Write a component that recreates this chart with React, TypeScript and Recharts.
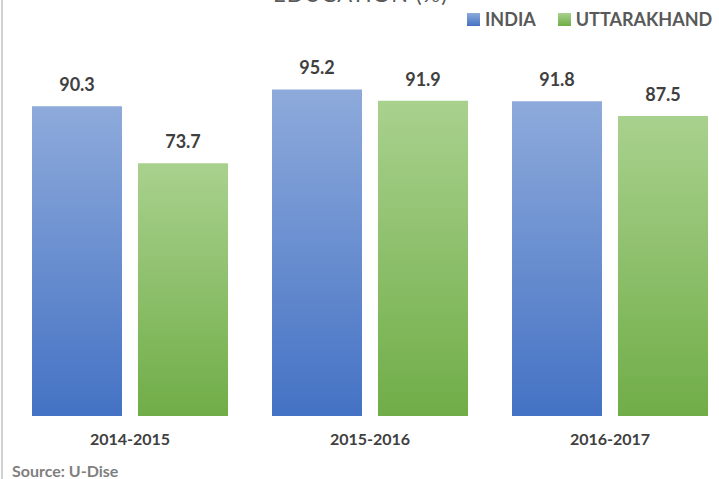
import React from "react";
import { Bar, BarChart, LabelList, XAxis, YAxis } from "recharts";

const years = ["2014-2015", "2015-2016", "2016-2017"];
const india = [90.3, 95.2, 91.8];
const uttarakhand = [73.7, 91.9, 87.5];
const seriesNames = ["INDIA", "UTTARAKHAND"];

const data = years.map((year, i) => ({
  year,
  india: india[i],
  uttarakhand: uttarakhand[i],
}));

const FONT = "Lato, 'Open Sans', sans-serif";

function LegendBox() {
  const fills = ["url(#gradIndia)", "url(#gradUk)"];
  return (
    <div
      style={{
        position: "absolute",
        top: 9,
        left: 467,
        display: "flex",
        alignItems: "center",
        fontFamily: FONT,
      }}
    >
      {seriesNames.map((name, i) => (
        <div key={name} style={{ display: "flex", alignItems: "center", marginRight: i === 0 ? 22 : 0 }}>
          <svg width={13} height={13} style={{ marginRight: 5 }}>
            <rect width={13} height={13} fill={fills[i]} />
          </svg>
          <span style={{ fontSize: 18, fontWeight: 700, color: "#595959", lineHeight: "20px" }}>{name}</span>
        </div>
      ))}
    </div>
  );
}

export default function App() {
  return (
    <div
      style={{
        position: "fixed",
        left: 0,
        top: 0,
        width: 719,
        height: 479,
        overflow: "hidden",
        background: "#fff",
      }}
    >
      <div style={{ position: "absolute", left: 1, top: 0, width: 2, height: 479, background: "#d0d0d0" }} />
      <BarChart
        width={750}
        height={479}
        data={data}
        margin={{ top: 73, right: 20, bottom: 23, left: 10 }}
        barCategoryGap={22}
        barGap={16}
      >
        <defs>
          <linearGradient id="gradIndia" x1="0" y1="0" x2="0" y2="1">
            <stop offset="0%" stopColor="#8eaadb" />
            <stop offset="100%" stopColor="#4472c4" />
          </linearGradient>
          <linearGradient id="gradUk" x1="0" y1="0" x2="0" y2="1">
            <stop offset="0%" stopColor="#a9d18e" />
            <stop offset="100%" stopColor="#70ad47" />
          </linearGradient>
        </defs>
        <XAxis
          dataKey="year"
          height={40}
          axisLine={false}
          tickLine={false}
          tickMargin={12}
          tick={{ fontSize: 16, fontWeight: 700, fill: "#404040", fontFamily: FONT }}
        />
        <YAxis hide domain={[0, 100]} />
        <Bar dataKey="india" fill="url(#gradIndia)" isAnimationActive={false}>
          <LabelList
            dataKey="india"
            position="top"
            offset={15}
            style={{ fontSize: 18, fontWeight: 700, fill: "#404040", fontFamily: FONT }}
          />
        </Bar>
        <Bar dataKey="uttarakhand" fill="url(#gradUk)" isAnimationActive={false}>
          <LabelList
            dataKey="uttarakhand"
            position="top"
            offset={15}
            style={{ fontSize: 18, fontWeight: 700, fill: "#404040", fontFamily: FONT }}
          />
        </Bar>
      </BarChart>
      {/* last line of the title, running off the top edge */}
      <svg width={719} height={20} style={{ position: "absolute", left: 0, top: 0 }}>
        <text
          x={273}
          y={2}
          textLength={174}
          lengthAdjust="spacing"
          fontFamily={FONT}
          fontSize={22}
          fill="#595959"
        >
          EDUCATION (%)
        </text>
      </svg>
      <LegendBox />
      <div
        style={{
          position: "absolute",
          left: 12,
          top: 463,
          fontFamily: FONT,
          fontSize: 16,
          lineHeight: "16px",
          fontWeight: 700,
          color: "#7f7f7f",
          whiteSpace: "nowrap",
        }}
      >
        Source: U-Dise
      </div>
    </div>
  );
}
